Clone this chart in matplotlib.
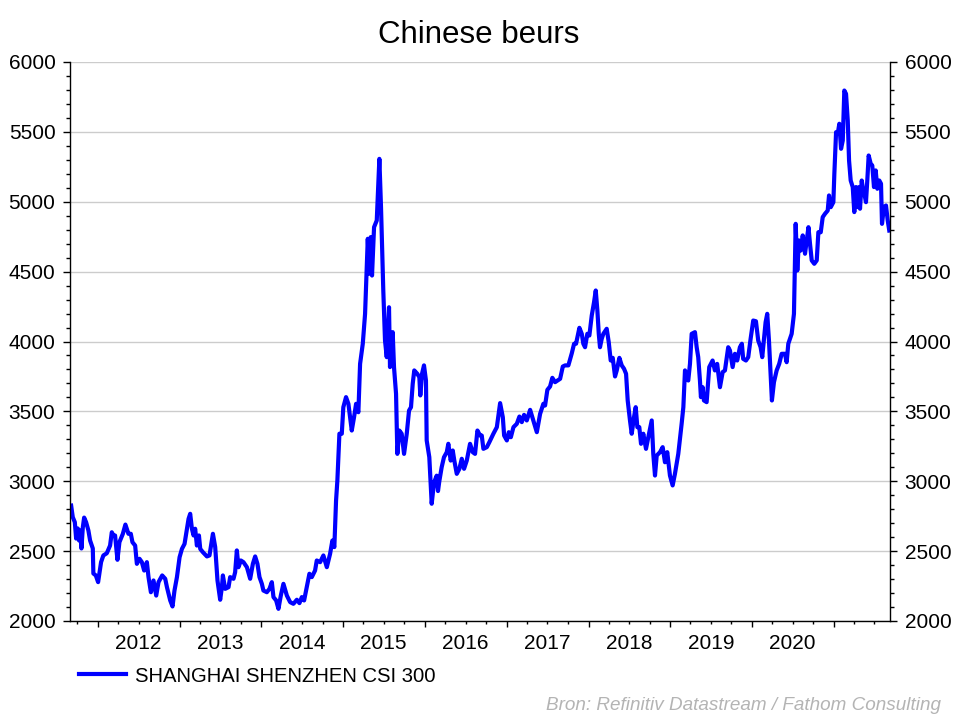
import matplotlib
matplotlib.use("Agg")
import matplotlib.pyplot as plt
import matplotlib.dates as mdates
from matplotlib.ticker import MultipleLocator, FuncFormatter, NullFormatter
from datetime import datetime

plt.rcParams['font.family'] = ['Liberation Sans', 'DejaVu Sans']

# tijd in decimale jaren
t = [2011.674, 2011.694, 2011.719, 2011.735, 2011.755, 2011.771, 2011.784, 2011.800,
     2011.817, 2011.833, 2011.857, 2011.885, 2011.906, 2011.939, 2011.946, 2011.976,
     2012.004, 2012.020, 2012.040, 2012.068, 2012.110, 2012.150, 2012.171, 2012.191,
     2012.211, 2012.240, 2012.264, 2012.306, 2012.337, 2012.374, 2012.403, 2012.423,
     2012.456, 2012.477, 2012.509, 2012.538, 2012.566, 2012.599, 2012.619, 2012.648,
     2012.680, 2012.713, 2012.741, 2012.786, 2012.823, 2012.844, 2012.884, 2012.912,
     2012.936, 2012.966, 2012.998, 2013.027, 2013.059, 2013.088, 2013.108, 2013.128,
     2013.149, 2013.169, 2013.189, 2013.210, 2013.235, 2013.251, 2013.284, 2013.333,
     2013.364, 2013.406, 2013.434, 2013.462, 2013.495, 2013.516, 2013.528, 2013.556,
     2013.597, 2013.617, 2013.658, 2013.678, 2013.699, 2013.719, 2013.748, 2013.780,
     2013.822, 2013.862, 2013.895, 2013.923, 2013.951, 2013.976, 2014.005, 2014.024,
     2014.066, 2014.098, 2014.127, 2014.147, 2014.180, 2014.208, 2014.237, 2014.269,
     2014.311, 2014.351, 2014.391, 2014.433, 2014.465, 2014.494, 2014.522, 2014.555,
     2014.587, 2014.616, 2014.656, 2014.677, 2014.718, 2014.758, 2014.800, 2014.840,
     2014.868, 2014.892, 2014.913, 2014.929, 2014.954, 2014.983, 2015.002, 2015.035,
     2015.064, 2015.105, 2015.133, 2015.158, 2015.186, 2015.207, 2015.240, 2015.268,
     2015.301, 2015.320, 2015.337, 2015.353, 2015.378, 2015.411, 2015.443, 2015.463,
     2015.491, 2015.512, 2015.533, 2015.561, 2015.573, 2015.606, 2015.622, 2015.647,
     2015.663, 2015.687, 2015.716, 2015.745, 2015.778, 2015.806, 2015.830, 2015.851,
     2015.870, 2015.907, 2015.932, 2015.944, 2015.965, 2015.989, 2016.013, 2016.022,
     2016.054, 2016.083, 2016.111, 2016.144, 2016.160, 2016.176, 2016.205, 2016.233,
     2016.267, 2016.286, 2016.315, 2016.340, 2016.359, 2016.389, 2016.421, 2016.450,
     2016.478, 2016.511, 2016.551, 2016.584, 2016.612, 2016.641, 2016.674, 2016.694,
     2016.714, 2016.756, 2016.787, 2016.836, 2016.878, 2016.918, 2016.951, 2016.967,
     2017.000, 2017.024, 2017.049, 2017.081, 2017.122, 2017.154, 2017.183, 2017.211,
     2017.244, 2017.285, 2017.318, 2017.367, 2017.407, 2017.447, 2017.468, 2017.496,
     2017.529, 2017.557, 2017.590, 2017.652, 2017.685, 2017.713, 2017.753, 2017.795,
     2017.823, 2017.847, 2017.888, 2017.917, 2017.936, 2017.957, 2017.985, 2018.010,
     2018.039, 2018.067, 2018.088, 2018.108, 2018.125, 2018.140, 2018.161, 2018.181,
     2018.222, 2018.247, 2018.271, 2018.296, 2018.324, 2018.345, 2018.377, 2018.406,
     2018.434, 2018.459, 2018.479, 2018.507, 2018.528, 2018.556, 2018.577, 2018.597,
     2018.621, 2018.642, 2018.670, 2018.703, 2018.731, 2018.773, 2018.792, 2018.813,
     2018.834, 2018.874, 2018.907, 2018.935, 2018.963, 2018.996, 2019.029, 2019.057,
     2019.098, 2019.139, 2019.160, 2019.180, 2019.220, 2019.241, 2019.262, 2019.302,
     2019.323, 2019.342, 2019.363, 2019.375, 2019.396, 2019.412, 2019.445, 2019.477,
     2019.518, 2019.546, 2019.574, 2019.608, 2019.641, 2019.669, 2019.709, 2019.730,
     2019.763, 2019.791, 2019.819, 2019.852, 2019.876, 2019.892, 2019.926, 2019.954,
     2019.983, 2020.015, 2020.048, 2020.076, 2020.105, 2020.125, 2020.166, 2020.186,
     2020.207, 2020.227, 2020.243, 2020.268, 2020.301, 2020.332, 2020.362, 2020.402,
     2020.423, 2020.443, 2020.484, 2020.512, 2020.533, 2020.553, 2020.573, 2020.594,
     2020.619, 2020.647, 2020.689, 2020.708, 2020.729, 2020.760, 2020.790, 2020.810,
     2020.839, 2020.863, 2020.891, 2020.924, 2020.940, 2020.961, 2020.993, 2021.005,
     2021.026, 2021.046, 2021.066, 2021.087, 2021.108, 2021.127, 2021.148, 2021.169,
     2021.185, 2021.205, 2021.230, 2021.249, 2021.270, 2021.291, 2021.307, 2021.319,
     2021.340, 2021.359, 2021.380, 2021.392, 2021.408, 2021.425, 2021.450, 2021.469,
     2021.490, 2021.511, 2021.531, 2021.555, 2021.576, 2021.588, 2021.612, 2021.637,
     2021.658, 2021.677]

# CSI 300 indexniveau
csi = [2826, 2743, 2707, 2590, 2662, 2576, 2648, 2519,
       2671, 2740, 2707, 2648, 2576, 2519, 2340, 2326,
       2278, 2340, 2421, 2469, 2485, 2540, 2635, 2612,
       2612, 2438, 2564, 2624, 2690, 2624, 2624, 2564,
       2540, 2409, 2445, 2421, 2361, 2421, 2314, 2206,
       2290, 2182, 2278, 2326, 2302, 2242, 2147, 2104,
       2218, 2314, 2456, 2516, 2552, 2660, 2731, 2767,
       2660, 2612, 2660, 2540, 2612, 2516, 2492, 2462,
       2469, 2624, 2529, 2290, 2152, 2242, 2326, 2230,
       2242, 2314, 2302, 2349, 2505, 2385, 2433, 2421,
       2385, 2302, 2409, 2462, 2409, 2314, 2266, 2218,
       2206, 2230, 2278, 2171, 2147, 2087, 2182, 2266,
       2182, 2135, 2123, 2152, 2128, 2171, 2147, 2242,
       2338, 2314, 2361, 2433, 2421, 2469, 2385, 2481,
       2576, 2529, 2862, 3005, 3340, 3340, 3530, 3602,
       3554, 3363, 3458, 3554, 3494, 3840, 3984, 4198,
       4735, 4485, 4747, 4472, 4818, 4866, 5307, 4961,
       4365, 4007, 3888, 4245, 3817, 4067, 3817, 3626,
       3196, 3363, 3340, 3196, 3340, 3506, 3530, 3697,
       3793, 3769, 3745, 3614, 3769, 3829, 3721, 3292,
       3172, 2839, 2990, 3040, 2930, 3000, 3101, 3172,
       3208, 3268, 3148, 3220, 3148, 3053, 3089, 3161,
       3089, 3148, 3268, 3208, 3196, 3363, 3327, 3327,
       3232, 3244, 3280, 3340, 3387, 3559, 3458, 3327,
       3292, 3351, 3315, 3387, 3411, 3463, 3423, 3475,
       3435, 3511, 3447, 3351, 3482, 3554, 3542, 3654,
       3678, 3740, 3709, 3733, 3821, 3829, 3829, 3916,
       3984, 3984, 4098, 4055, 3984, 3959, 4055, 4043,
       4186, 4281, 4365, 4222, 4055, 3959, 4019, 4055,
       4091, 3995, 3864, 3883, 3750, 3793, 3883, 3829,
       3805, 3769, 3578, 3435, 3340, 3458, 3530, 3387,
       3387, 3268, 3340, 3232, 3315, 3435, 3196, 3041,
       3184, 3208, 3244, 3136, 3208, 3041, 2970, 3053,
       3196, 3411, 3530, 3793, 3721, 3840, 4055, 4067,
       3959, 3888, 3721, 3602, 3673, 3578, 3566, 3817,
       3864, 3793, 3840, 3673, 3781, 3793, 3959, 3936,
       3817, 3912, 3864, 3959, 3984, 3876, 3864, 3888,
       4019, 4150, 4145, 4007, 3959, 3888, 4138, 4198,
       4007, 3769, 3578, 3709, 3793, 3840, 3912, 3912,
       3852, 3984, 4055, 4198, 4842, 4508, 4723, 4651,
       4759, 4628, 4818, 4699, 4580, 4556, 4580, 4782,
       4782, 4890, 4914, 4937, 5045, 4961, 4997, 5200,
       5498, 5486, 5558, 5379, 5438, 5796, 5772, 5581,
       5295, 5152, 5105, 4926, 5105, 4962, 5105, 4950,
       5152, 5081, 5033, 4997, 5152, 5331, 5272, 5260,
       5105, 5224, 5093, 5152, 5129, 4842, 4962, 4973,
       4866, 4794]

reeks = 'SHANGHAI SHENZHEN CSI 300'
titel = 'Chinese beurs'
bron = 'Bron: Refinitiv Datastream / Fathom Consulting'
eerste_jaar, laatste_jaar = 2012, 2020


def naar_datum(d):
    j = int(d)
    begin = datetime(j, 1, 1)
    eind = datetime(j + 1, 1, 1)
    return begin + (eind - begin) * (d - j)


datums = [naar_datum(d) for d in t]

fig = plt.figure(figsize=(9.6, 7.2), dpi=100)
ax = fig.add_axes([70/960, 1 - 621/720, 820/960, 559/720])

ax.plot(datums, csi, color='#0000ff', lw=3, label=reeks, solid_joinstyle='round')

ax.set_xlim(naar_datum(2011.66), naar_datum(2021.686))
ax.set_ylim(2000, 6000)

# jaren lang, kwartalen kort; jaarlabel midden in het jaar
ax.xaxis.set_major_locator(mdates.YearLocator())
ax.xaxis.set_major_formatter(NullFormatter())
ax.xaxis.set_minor_locator(mdates.MonthLocator(bymonth=[1, 4, 7, 10]))


def jaarlabel(x, pos):
    d = mdates.num2date(x)
    if d.month == 7 and eerste_jaar <= d.year <= laatste_jaar:
        return str(d.year)
    return ''


ax.xaxis.set_minor_formatter(FuncFormatter(jaarlabel))

ax.yaxis.set_major_locator(MultipleLocator(500))
ax.yaxis.set_minor_locator(MultipleLocator(100))

ax.tick_params(axis='x', which='major', direction='out', length=4.5, width=1, bottom=True, top=False)
ax.tick_params(axis='x', which='minor', direction='out', length=2.5, width=1, pad=7, labelsize=15)
ax.tick_params(axis='y', which='major', direction='out', length=5, width=1, pad=5.5,
               left=True, right=True, labelleft=True, labelright=True, labelsize=15)
ax.tick_params(axis='y', which='minor', direction='out', length=3, width=1,
               left=True, right=True)

ax.spines['top'].set_visible(False)
for s in ['left', 'right', 'bottom']:
    ax.spines[s].set_linewidth(1)
    ax.spines[s].set_color('black')

ax.yaxis.grid(True, which='major', color='#cccccc', lw=1)
ax.set_axisbelow(True)

fig.text(0.499, 1 - 35/720, titel, ha='center', va='center', fontsize=22.5)

ax.legend(loc='center left', bbox_to_anchor=(79/960, 1 - 676/720),
          bbox_transform=fig.transFigure, frameon=False, fontsize=14.6,
          handlelength=2.3, handletextpad=0.45, borderpad=0, borderaxespad=0)

fig.text(941/960, 1 - 706/720, bron, ha='right', va='center', fontsize=13.6,
         style='italic', color='#b4b4b4')

fig.savefig('out.png', dpi=100)
